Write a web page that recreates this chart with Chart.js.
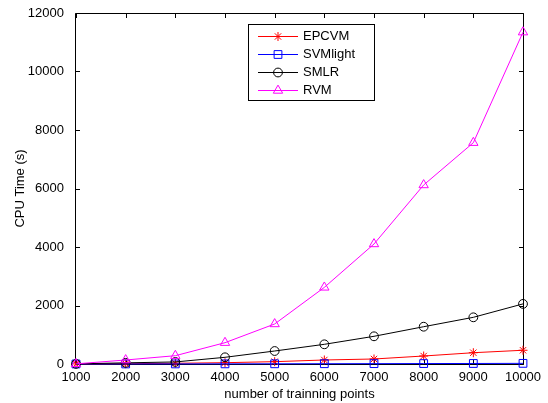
<!DOCTYPE html>
<html>
<head>
<meta charset="utf-8">
<script src="https://cdn.jsdelivr.net/npm/chart.js@4/dist/chart.umd.min.js"></script>
<style>
html,body{margin:0;padding:0;background:#fff;}
#c{display:block;}
</style>
</head>
<body>
<canvas id="c" width="548" height="403" style="width:548px;height:403px"></canvas>
<script>
// ---- data ----
const trainingPoints = [1000, 2000, 3000, 4000, 5000, 6000, 7000, 8000, 9000, 10000];
const epcvmTime = [3, 10, 25, 45, 80, 137, 171, 273, 386, 470];
const svmlightTime = [1, 2, 3, 5, 7, 10, 12, 15, 18, 22];
const smlrTime = [5, 40, 70, 229, 444, 673, 947, 1275, 1596, 2055];
const rvmTime = [5, 137, 284, 729, 1368, 2620, 4103, 6120, 7566, 11345];
const seriesNames = ['EPCVM', 'SVMlight', 'SMLR', 'RVM'];
const xTitle = 'number of trainning points';
const yTitle = 'CPU Time (s)';

const FONT = {family: '"Liberation Sans", Arial, sans-serif', size: 13, lineHeight: 1.2};

function pts(vals) { return trainingPoints.map((x, i) => ({x: x, y: vals[i]})); }

const styles = [
  {color: '#ff0000', pointStyle: 'star', radius: 4.5},
  {color: '#0000ff', pointStyle: 'rect', radius: 5.5},
  {color: '#000000', pointStyle: 'circle', radius: 4.4},
  {color: '#ff00ff', pointStyle: 'triangle', radius: 5.4}
];
const allValues = [epcvmTime, svmlightTime, smlrTime, rvmTime];

const datasets = allValues.map((vals, i) => ({
  label: seriesNames[i],
  data: pts(vals),
  borderColor: styles[i].color,
  backgroundColor: 'rgba(0,0,0,0)',
  pointBorderColor: styles[i].color,
  pointBackgroundColor: 'rgba(0,0,0,0)',
  pointStyle: styles[i].pointStyle,
  pointRadius: styles[i].radius,
  pointBorderWidth: 1,
  borderWidth: 1,
  tension: 0,
  clip: false,
  order: 4 - i
}));

function drawMarker(ctx, style, r, x, y, color) {
  ctx.save();
  ctx.strokeStyle = color;
  ctx.lineWidth = 1;
  ctx.beginPath();
  if (style === 'circle') {
    ctx.arc(x, y, r, 0, Math.PI * 2);
  } else if (style === 'rect') {
    const s = Math.SQRT1_2 * r;
    ctx.rect(x - s, y - s, 2 * s, 2 * s);
  } else if (style === 'triangle') {
    const a = -Math.PI / 2;
    for (let k = 0; k < 3; k++) {
      const ang = a + k * 2 * Math.PI / 3;
      const px = x + Math.cos(ang) * r, py = y + Math.sin(ang) * r;
      if (k === 0) ctx.moveTo(px, py); else ctx.lineTo(px, py);
    }
    ctx.closePath();
  } else if (style === 'star') {
    for (let k = 0; k < 4; k++) {
      const ang = k * Math.PI / 4;
      ctx.moveTo(x + Math.cos(ang) * r, y + Math.sin(ang) * r);
      ctx.lineTo(x - Math.cos(ang) * r, y - Math.sin(ang) * r);
    }
  }
  ctx.stroke();
  ctx.restore();
}

const frameAndTicks = {
  id: 'frameAndTicks',
  beforeDatasetsDraw(chart) {
    const ctx = chart.ctx;
    const a = chart.chartArea;
    const xs = chart.scales.x, ys = chart.scales.y;
    const L = Math.round(a.left) - 0.5, R = Math.round(a.right) + 0.5;
    const T = Math.round(a.top) + 0.5, B = Math.round(a.bottom) + 0.5;
    ctx.save();
    ctx.strokeStyle = '#000';
    ctx.lineWidth = 1;
    ctx.beginPath();
    ctx.moveTo(L, T); ctx.lineTo(R, T); ctx.lineTo(R, B); ctx.lineTo(L, B); ctx.closePath();
    const tl = 4.5;
    xs.ticks.forEach(t => {
      const px = Math.round(xs.getPixelForValue(t.value)) + 0.5;
      ctx.moveTo(px, B); ctx.lineTo(px, B - tl);
      ctx.moveTo(px, T); ctx.lineTo(px, T + tl);
    });
    ys.ticks.forEach(t => {
      const py = Math.round(ys.getPixelForValue(t.value)) + 0.5;
      ctx.moveTo(L, py); ctx.lineTo(L + tl, py);
      ctx.moveTo(R, py); ctx.lineTo(R - tl, py);
    });
    ctx.stroke();
    ctx.restore();
  }
};

const boxLegend = {
  id: 'boxLegend',
  afterDraw(chart) {
    const ctx = chart.ctx;
    const bx = 248.5, by = 24.5, bw = 126, bh = 76;
    ctx.save();
    ctx.fillStyle = '#fff';
    ctx.fillRect(bx, by, bw, bh);
    ctx.strokeStyle = '#000';
    ctx.lineWidth = 1;
    ctx.strokeRect(bx, by, bw, bh);
    ctx.font = FONT.size + 'px ' + FONT.family;
    ctx.textBaseline = 'middle';
    ctx.textAlign = 'left';
    chart.data.datasets.forEach((ds, i) => {
      const y = Math.round(36 + i * 18) + 0.5;
      ctx.strokeStyle = ds.borderColor;
      ctx.lineWidth = 1;
      ctx.beginPath();
      ctx.moveTo(258, y); ctx.lineTo(298, y);
      ctx.stroke();
      drawMarker(ctx, ds.pointStyle, ds.pointRadius, 278, y, ds.borderColor);
      ctx.fillStyle = '#000';
      ctx.fillText(ds.label, 303, y);
    });
    ctx.restore();
  }
};

new Chart(document.getElementById('c'), {
  type: 'line',
  data: {datasets: datasets},
  options: {
    responsive: false,
    animation: false,
    devicePixelRatio: 1,
    layout: {padding: {top: 13, right: 25, left: 0, bottom: 0}},
    plugins: {legend: {display: false}, tooltip: {enabled: false}},
    scales: {
      x: {
        type: 'linear',
        min: 1000, max: 10000,
        grid: {display: false},
        border: {display: false},
        ticks: {stepSize: 1000, color: '#000', font: FONT, padding: -2, maxRotation: 0, autoSkip: false,
                callback: v => String(v)},
        title: {display: true, text: xTitle, color: '#000', font: FONT, padding: {top: 0, bottom: 1}},
        afterFit(s) { s.height = 39; }
      },
      y: {
        type: 'linear',
        min: 0, max: 12000,
        grid: {display: false},
        border: {display: false},
        ticks: {stepSize: 2000, color: '#000', font: FONT, padding: 4, callback: v => String(v)},
        title: {display: true, text: yTitle, color: '#000', font: FONT, padding: {top: 13, bottom: 0}},
        afterFit(s) { s.width = 76; }
      }
    }
  },
  plugins: [frameAndTicks, boxLegend]
});
</script>
</body>
</html>
